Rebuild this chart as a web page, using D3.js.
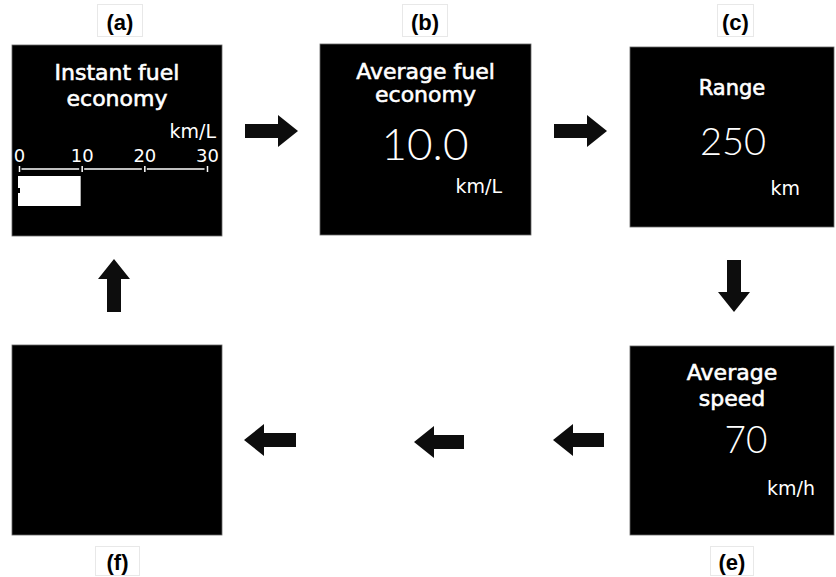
<!DOCTYPE html>
<html lang="en">
<head>
<meta charset="UTF-8">
<title>Trip computer screens</title>
<script src="https://cdn.jsdelivr.net/npm/d3@7"></script>
<style>
  body { margin: 0; background: #fff; }
  svg { display: block; }
</style>
</head>
<body>
<svg id="chart" width="836" height="577"></svg>
<script>
// screen data
var screenIds    = ["a", "b", "c", "e", "f"];
var screenTitles = [["Instant fuel", "economy"], ["Average fuel", "economy"], ["Range"], ["Average", "speed"], []];
var screenValues = [null, "10.0", "250", "70", null];
var screenUnits  = ["km/L", "km/L", "km", "km/h", null];

// instant fuel economy bar gauge (a)
var gaugeTicks = [0, 10, 20, 30];
var gaugeValue = 10;

var svg = d3.select("#chart");

// layout of each screen (box, label, text anchors)
var layout = {
  a: {x: 12,  y: 45,  w: 210, h: 191, lab: {x: 97,  y: 4,   w: 45}, title: [80, 106], tsize: 22},
  b: {x: 320, y: 44,  w: 211, h: 191, lab: {x: 402, y: 4,   w: 45}, title: [79, 102], tsize: 22,
      val: {x: 425, y: 160, s: 44}, unit: {x: 502, y: 193}},
  c: {x: 630, y: 47,  w: 204, h: 180, lab: {x: 717, y: 4,   w: 36}, title: [95], tsize: 21,
      val: {x: 733, y: 155, s: 38}, unit: {x: 800, y: 195}},
  e: {x: 630, y: 346, w: 204, h: 189, lab: {x: 710, y: 546, w: 43}, title: [380, 406], tsize: 22,
      val: {x: 746, y: 453, s: 37}, unit: {x: 815, y: 495}},
  f: {x: 12,  y: 345, w: 210, h: 190, lab: {x: 95,  y: 546, w: 44}, title: [], tsize: 22}
};

var titleFont = "'DejaVu Sans', Verdana, sans-serif";
var valueFont = "Lato, Roboto, 'Open Sans', sans-serif";

screenIds.forEach(function(id, i) {
  var L = layout[id];
  var low = (id === "e" || id === "f");
  var g = svg.append("g").attr("class", "screen screen-" + id);

  g.append("rect")
    .attr("x", L.x).attr("y", L.y).attr("width", L.w).attr("height", L.h)
    .attr("fill", "#000").attr("stroke", "#666").attr("stroke-width", 0.8);

  // label box "(x)"
  g.append("rect")
    .attr("x", L.lab.x + 0.5).attr("y", L.lab.y + 0.5).attr("width", L.lab.w).attr("height", low ? 29 : 32)
    .attr("fill", "#fff").attr("stroke", "#e8e8e8");
  g.append("text")
    .attr("x", L.lab.x + L.lab.w / 2 + 0.5)
    .attr("y", L.lab.y + (low ? 24 : 26))
    .attr("text-anchor", "middle")
    .attr("font-family", "'Liberation Sans', Arial, sans-serif")
    .attr("font-weight", "bold").attr("font-size", 22)
    .attr("fill", "#000")
    .text("(" + id + ")");

  var cx = L.x + L.w / 2;
  screenTitles[i].forEach(function(t, k) {
    g.append("text")
      .attr("x", cx).attr("y", L.title[k])
      .attr("text-anchor", "middle")
      .attr("font-family", titleFont).attr("font-size", L.tsize)
      .attr("fill", "#fff").attr("stroke", "#fff").attr("stroke-width", 0.6)
      .text(t);
  });

  if (screenValues[i] != null) {
    g.append("text")
      .attr("x", L.val.x).attr("y", L.val.y)
      .attr("text-anchor", "middle")
      .attr("font-family", valueFont).attr("font-weight", 300).attr("font-size", L.val.s)
      .attr("fill", "#fff")
      .text(screenValues[i]);
  }
  if (screenUnits[i] != null && id !== "a") {
    g.append("text")
      .attr("x", L.unit.x).attr("y", L.unit.y)
      .attr("text-anchor", "end")
      .attr("font-family", titleFont).attr("font-size", 19)
      .attr("fill", "#fff")
      .text(screenUnits[i]);
  }
});

// gauge in screen (a)
var gA = svg.select(".screen-a");
var x = d3.scaleLinear().domain([0, 30]).range([19, 207]);
var axisY = 169;

gA.append("text")
  .attr("x", 216).attr("y", 138)
  .attr("text-anchor", "end")
  .attr("font-family", titleFont).attr("font-size", 19)
  .attr("fill", "#fff")
  .text(screenUnits[0]);

var axis = gA.append("g")
  .attr("transform", "translate(0," + axisY + ")")
  .call(d3.axisTop(x).tickValues(gaugeTicks).tickSize(3).tickPadding(4));
axis.select(".domain").remove();
axis.selectAll(".tick line").attr("stroke", "#fff").attr("stroke-width", 1.5).attr("y1", 3).attr("y2", -3);
axis.selectAll(".tick text")
  .attr("fill", "#fff")
  .attr("font-family", titleFont).attr("font-size", 18);

// axis line broken beside each tick
gA.selectAll("line.seg")
  .data(d3.pairs(gaugeTicks))
  .enter().append("line")
  .attr("class", "seg")
  .attr("x1", function(d) { return x(d[0]) + 2.5; })
  .attr("x2", function(d) { return x(d[1]) - 2.5; })
  .attr("y1", axisY).attr("y2", axisY)
  .attr("stroke", "#fff").attr("stroke-width", 1.5);

gA.append("rect")
  .attr("x", x(0) - 1).attr("y", 176)
  .attr("width", x(gaugeValue) - x(0)).attr("height", 30)
  .attr("fill", "#fff");
gA.append("rect")
  .attr("x", x(0) - 1).attr("y", 188).attr("width", 2).attr("height", 5)
  .attr("fill", "#000");

// flow arrows: [x1, y1, x2, y2] tail -> tip
var arrows = [
  [245, 131, 298, 131],
  [554, 131, 607, 131],
  [734, 260, 734, 312],
  [604, 440, 553, 440],
  [464, 442, 414, 442],
  [296, 440, 244, 440],
  [114, 312, 114, 259]
];

function arrowPath(d) {
  var len = Math.hypot(d[2] - d[0], d[3] - d[1]);
  var head = 20, hw = 16, sw = 7;
  var p = [[0, -sw], [len - head, -sw], [len - head, -hw], [len, 0], [len - head, hw], [len - head, sw], [0, sw]];
  return d3.line()(p) + "Z";
}

svg.selectAll("path.arrow")
  .data(arrows)
  .enter().append("path")
  .attr("class", "arrow")
  .attr("d", arrowPath)
  .attr("transform", function(d) {
    var ang = Math.atan2(d[3] - d[1], d[2] - d[0]) * 180 / Math.PI;
    return "translate(" + d[0] + "," + d[1] + ") rotate(" + ang + ")";
  })
  .attr("fill", "#0d0d0d");
</script>
</body>
</html>
